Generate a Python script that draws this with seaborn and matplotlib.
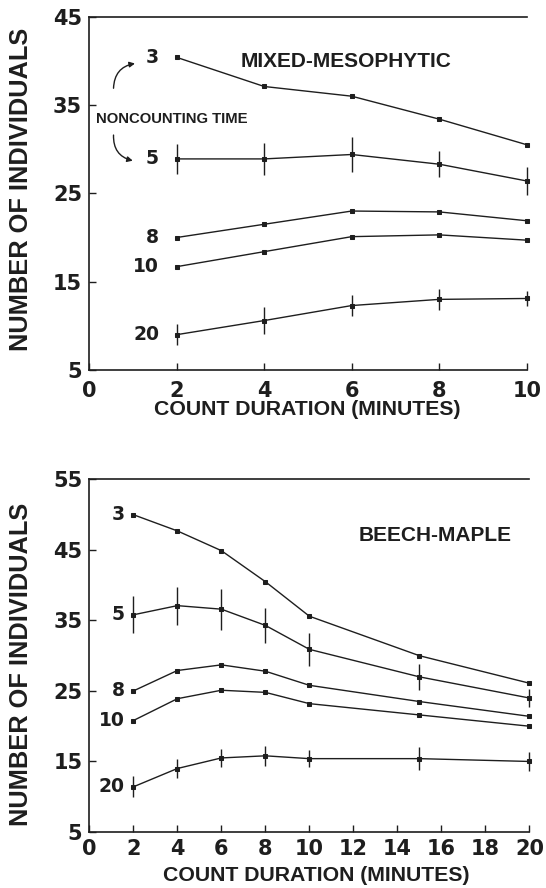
import matplotlib
matplotlib.use("Agg")
import matplotlib.pyplot as plt
import seaborn as sns
import pandas as pd

# Count duration (minutes)
x_mixed = [2, 4, 6, 8, 10]
x_beech = [2, 4, 6, 8, 10, 15, 20]

# Mixed-mesophytic forest: mean number of individuals by noncounting time
mixed_3 = [40.4, 37.1, 36.0, 33.4, 30.5]
mixed_5 = [28.9, 28.9, 29.4, 28.3, 26.4]
mixed_5_err = [1.7, 1.8, 2.0, 1.5, 1.6]
mixed_8 = [20.0, 21.5, 23.0, 22.9, 21.9]
mixed_10 = [16.7, 18.4, 20.1, 20.3, 19.7]
mixed_20 = [9.0, 10.6, 12.3, 13.0, 13.1]
mixed_20_err = [1.2, 1.5, 1.2, 1.2, 0.9]

# Beech-maple forest
beech_3 = [50.0, 47.7, 44.9, 40.5, 35.6, 30.0, 26.1]
beech_5 = [35.8, 37.1, 36.6, 34.3, 30.9, 27.0, 24.0]
beech_5_err = [2.6, 2.7, 2.9, 2.5, 2.3, 1.8, 1.3]
beech_8 = [25.0, 27.9, 28.7, 27.8, 25.8, 23.5, 21.4]
beech_10 = [20.8, 23.9, 25.1, 24.8, 23.2, 21.6, 20.0]
beech_20 = [11.4, 14.0, 15.5, 15.8, 15.4, 15.4, 15.0]
beech_20_err = [1.5, 1.4, 1.25, 1.4, 1.2, 1.65, 1.4]

noncounting = ["3", "5", "8", "10", "20"]

sns.set_style("ticks")
plt.rcParams["font.family"] = ["Liberation Sans", "DejaVu Sans"]

INK = "#1e1e1e"
LABEL_FONT = dict(family="Liberation Sans", weight="bold", color=INK)
NUM_FONT = dict(family="DejaVu Sans", weight="bold", color=INK)


def long_frame(x, series):
    rows = []
    for name, vals in series.items():
        for xi, yi in zip(x, vals):
            rows.append({"duration": xi, "count": yi, "nct": name})
    return pd.DataFrame(rows)


def draw_panel(ax, x, series, errs, xlim, xticks, ylim, yticks, title, title_pos,
               label_x, xtick_pad):
    df = long_frame(x, series)
    sns.lineplot(data=df, x="duration", y="count", units="nct", estimator=None,
                 color=INK, lw=1.0, marker="s", markersize=3.2,
                 markeredgecolor=INK, markerfacecolor=INK, ax=ax, legend=False,
                 clip_on=False)
    for name, err in errs.items():
        ax.errorbar(x, series[name], yerr=err, fmt="none", ecolor=INK,
                    elinewidth=1.0, capsize=0, clip_on=False)
    for name in noncounting:
        ax.text(label_x, series[name][0], name, ha="right", va="center",
                fontsize=13.5, **NUM_FONT)
    ax.text(title_pos[0], title_pos[1], title, ha="right", va="center",
            fontsize=15, **LABEL_FONT)

    ax.set_xlim(*xlim)
    ax.set_ylim(*ylim)
    ax.set_xticks(xticks)
    ax.set_yticks(yticks)
    ax.tick_params(direction="in", length=5, width=1.0, color=INK,
                   labelsize=15, labelcolor=INK)
    ax.tick_params(axis="x", pad=xtick_pad)
    ax.tick_params(axis="y", pad=5)
    for lab in ax.get_xticklabels() + ax.get_yticklabels():
        lab.set_fontfamily("DejaVu Sans")
        lab.set_fontweight("bold")
    for side in ("left", "bottom", "top"):
        ax.spines[side].set_color(INK)
        ax.spines[side].set_linewidth(1.2)
    ax.spines["right"].set_visible(False)

    ax.set_xlabel("COUNT DURATION (MINUTES)", fontsize=15.3, **LABEL_FONT)
    ax.set_ylabel("NUMBER OF INDIVIDUALS", fontsize=18.3, **LABEL_FONT)
    ax.xaxis.label.set_va("center")
    ax.yaxis.label.set_va("center")


fig = plt.figure(figsize=(5.46, 8.88), dpi=100)
ax1 = fig.add_axes([0.163, 0.5833, 0.802, 0.3979])
ax2 = fig.add_axes([0.1636, 0.0631, 0.806, 0.397])

draw_panel(
    ax1, x_mixed,
    {"3": mixed_3, "5": mixed_5, "8": mixed_8, "10": mixed_10, "20": mixed_20},
    {"5": mixed_5_err, "20": mixed_20_err},
    (0, 10), [0, 2, 4, 6, 8, 10], (5, 45), [5, 15, 25, 35, 45],
    "MIXED-MESOPHYTIC", (8.28, 39.9), 1.6, 8,
)
ax1.xaxis.set_label_coords(0.499, -0.111)
ax1.yaxis.set_label_coords(-0.155, 0.511)

# Noncounting-time annotation with curved arrows to the 3 and 5 labels
ax1.text(0.15, 33.45, "NONCOUNTING TIME", ha="left", va="center",
         fontsize=10.7, **LABEL_FONT)
arrow = dict(arrowstyle="-|>", color=INK, lw=1.0, mutation_scale=8,
             shrinkA=0, shrinkB=0)
ax1.annotate("", xy=(1.05, 39.7), xytext=(0.56, 36.9),
             arrowprops=dict(connectionstyle="arc3,rad=-0.4", **arrow))
ax1.annotate("", xy=(1.0, 28.7), xytext=(0.56, 31.6),
             arrowprops=dict(connectionstyle="arc3,rad=0.4", **arrow))

draw_panel(
    ax2, x_beech,
    {"3": beech_3, "5": beech_5, "8": beech_8, "10": beech_10, "20": beech_20},
    {"5": beech_5_err, "20": beech_20_err},
    (0, 20), list(range(0, 21, 2)), (5, 55), [5, 15, 25, 35, 45, 55],
    "BEECH-MAPLE", (19.2, 47.1), 1.62, 5,
)
ax2.xaxis.set_label_coords(0.515, -0.124)
ax2.yaxis.set_label_coords(-0.155, 0.474)

fig.savefig("out.png", dpi=100, facecolor="white")
